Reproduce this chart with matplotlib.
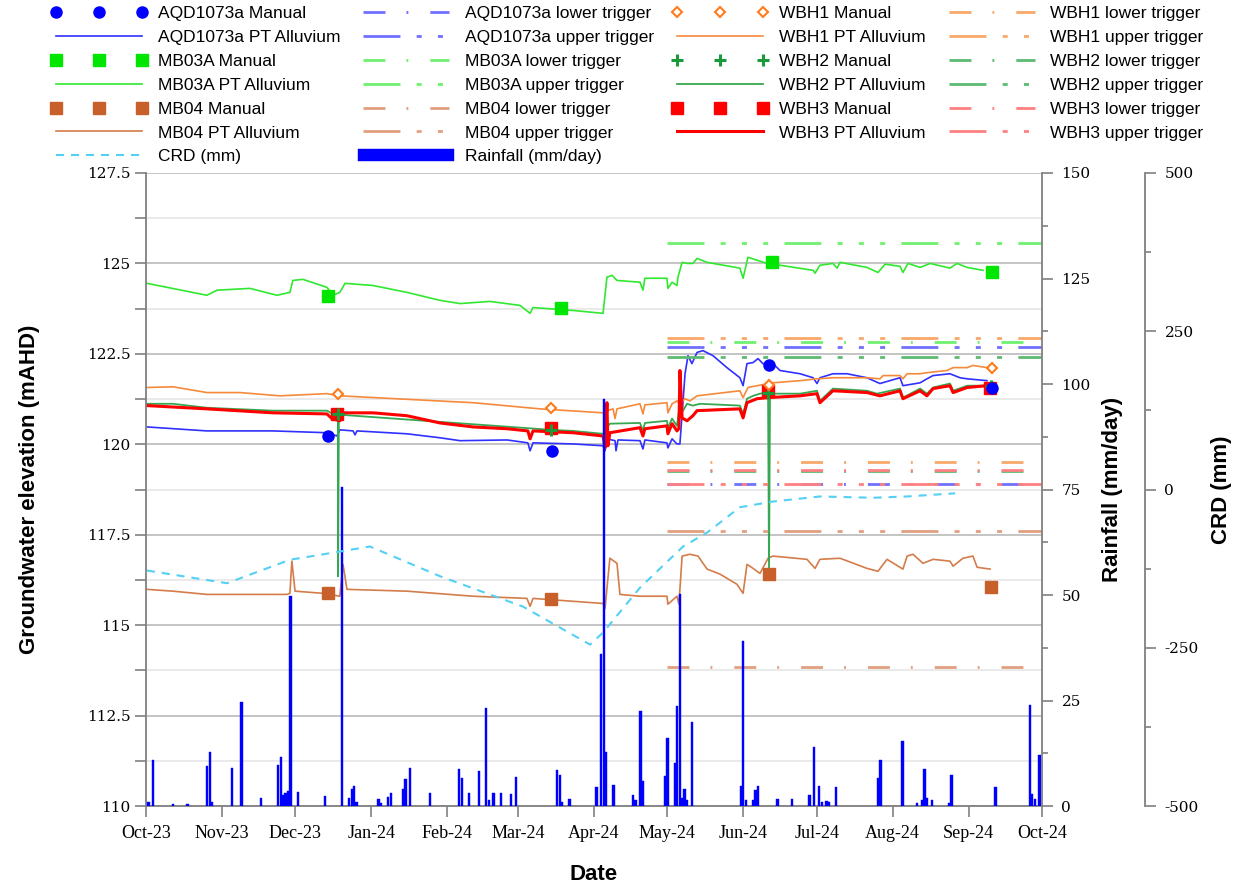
import matplotlib
matplotlib.use('Agg')
import matplotlib.pyplot as plt
from matplotlib.ticker import MultipleLocator
import pandas as pd

plt.rcParams['font.family'] = ['Liberation Sans', 'DejaVu Sans']
plt.rcParams['lines.scale_dashes'] = False

start = pd.Timestamp('2023-10-01')


def to_dates(days):
    return start + pd.to_timedelta(days, unit='D')


# ---- logger data (days since 1 Oct 2023, level in mAHD) ----
mb03a_day = [0.4, 24.9, 29.0, 42.5, 53.5, 58.8, 60.0, 64.1, 73.9, 76.4, 79.2, 81.3, 92.7, 106.6, 120.1,
             128.3, 140.5, 152.8, 156.9, 158.1, 174.4, 186.7, 188.3, 190.4, 192.4, 201.8, 203.0, 203.8,
             212.8, 213.2, 214.9, 216.9, 217.3, 219.0, 221.0, 223.4, 225.1, 229.2, 242.6, 243.9, 245.9,
             249.6, 253.7, 259.0, 272.5, 273.3, 275.3, 280.6, 282.3, 283.5, 294.5, 299.0, 301.9, 308.0,
             309.2, 311.3, 316.2, 320.3, 328.4, 331.3, 335.4, 341.9]
mb03a_lvl = [124.45, 124.12, 124.26, 124.31, 124.12, 124.20, 124.53, 124.56, 124.34, 124.12, 124.20,
             124.45, 124.39, 124.20, 123.98, 123.89, 123.95, 123.84, 123.62, 123.78, 123.70, 123.62,
             124.62, 124.67, 124.53, 124.48, 124.26, 124.59, 124.59, 124.31, 124.48, 124.39, 124.62,
             125.03, 125.00, 125.00, 125.14, 125.03, 124.87, 124.59, 125.17, 125.09, 125.00, 124.95,
             124.81, 124.73, 124.95, 125.00, 124.87, 125.03, 124.89, 124.75, 124.98, 124.92, 124.75,
             125.00, 124.89, 125.00, 124.87, 125.00, 124.89, 124.81]

aqd_day = [0.4, 24.9, 51.9, 73.9, 78.0, 79.2, 84.6, 85.4, 86.2, 106.6, 120.1, 128.3, 147.5, 156.0, 156.9,
           158.1, 174.4, 186.7, 187.5, 188.3, 191.6, 192.0, 192.8, 201.8, 203.0, 203.8, 212.8, 213.2,
           214.9, 216.9, 218.1, 220.2, 221.4, 223.0, 225.1, 227.5, 231.6, 237.3, 242.6, 243.9, 245.5,
           248.0, 250.0, 252.0, 256.1, 259.0, 267.2, 272.5, 274.1, 275.3, 280.6, 286.4, 294.5, 299.8,
           308.0, 309.2, 316.2, 319.0, 321.5, 328.4, 332.5, 335.4, 343.5]
aqd_lvl = [120.48, 120.37, 120.37, 120.32, 120.23, 120.40, 120.37, 120.26, 120.37, 120.29, 120.18, 120.10,
           120.12, 120.04, 119.82, 120.04, 120.01, 119.96, 119.82, 120.15, 120.10, 119.82, 120.12, 120.10,
           119.87, 120.12, 120.04, 119.90, 120.15, 120.01, 120.01, 121.95, 122.45, 122.23, 122.54, 122.59,
           122.45, 122.12, 121.84, 121.62, 122.23, 122.26, 122.37, 122.23, 122.23, 122.04, 121.95, 121.84,
           121.68, 121.84, 121.95, 121.95, 121.84, 121.68, 121.84, 121.62, 121.70, 121.81, 121.90, 121.95,
           121.84, 121.81, 121.76]

wbh1_day = [0.4, 11.0, 24.9, 38.4, 54.7, 73.9, 79.2, 133.6, 160.9, 186.7, 188.3, 190.8, 191.6, 192.4,
            201.8, 203.0, 203.8, 212.8, 213.2, 214.9, 216.9, 218.1, 220.2, 222.2, 225.1, 242.6, 243.9,
            245.9, 249.6, 256.1, 267.2, 274.1, 280.6, 294.5, 299.8, 301.1, 308.0, 309.2, 310.9, 316.2,
            319.0, 327.2, 329.7, 335.4, 337.8, 343.5]
wbh1_lvl = [121.57, 121.59, 121.43, 121.43, 121.34, 121.40, 121.34, 121.15, 120.98, 120.87, 120.93,
            120.98, 120.71, 120.98, 121.12, 120.84, 121.09, 121.15, 120.87, 121.12, 121.20, 121.12,
            121.26, 121.20, 121.34, 121.48, 121.29, 121.57, 121.62, 121.70, 121.76, 121.81, 121.84,
            121.84, 121.81, 121.90, 121.90, 121.81, 121.95, 121.95, 121.98, 122.04, 122.12, 122.12,
            122.18, 122.12]

wbh2_day = [0.4, 11.0, 24.9, 51.9, 73.9, 76.4, 78.4, 78.5, 78.8, 165.4, 174.4, 186.7, 188.3, 189.5,
            201.8, 203.0, 203.8, 212.8, 213.2, 214.9, 216.9, 218.1, 219.4, 221.0, 223.4, 226.3, 242.6,
            243.9, 245.5, 248.0, 250.8, 254.1, 254.5, 254.9, 267.2, 274.1, 275.3, 280.6, 294.5, 298.6,
            308.0, 309.2, 316.2, 319.0, 321.5, 328.4, 329.7, 335.4, 343.5]
wbh2_lvl = [121.12, 121.12, 121.01, 120.93, 120.93, 120.84, 120.84, 116.35, 120.82, 120.40, 120.37,
            120.29, 120.46, 120.57, 120.59, 120.37, 120.59, 120.65, 120.46, 120.71, 120.51, 121.12,
            120.93, 121.12, 121.07, 121.12, 121.07, 120.84, 121.26, 121.34, 121.40, 121.43, 116.41,
            121.40, 121.40, 121.48, 121.20, 121.54, 121.48, 121.40, 121.54, 121.29, 121.54, 121.40,
            121.57, 121.68, 121.48, 121.62, 121.62]

wbh3_day = [0.4, 24.9, 51.9, 73.9, 76.0, 79.2, 80.5, 92.7, 106.6, 120.1, 133.6, 147.5, 156.0, 156.9,
            158.1, 174.4, 186.7, 187.5, 188.3, 188.7, 189.5, 201.8, 203.0, 203.8, 212.8, 213.2, 214.9,
            216.9, 217.7, 218.1, 219.0, 221.0, 223.4, 225.1, 242.6, 243.9, 245.5, 249.6, 254.1, 267.2,
            274.1, 275.3, 280.6, 294.5, 299.8, 308.0, 309.2, 316.2, 319.0, 321.5, 328.4, 329.7, 335.4,
            343.5]
wbh3_lvl = [121.07, 120.98, 120.87, 120.84, 120.71, 120.65, 120.87, 120.87, 120.79, 120.59, 120.48,
            120.43, 120.37, 120.15, 120.37, 120.32, 120.23, 119.90, 121.15, 119.96, 120.32, 120.46,
            120.23, 120.43, 120.51, 120.29, 120.57, 120.37, 120.43, 122.04, 120.73, 120.65, 120.79,
            120.93, 120.98, 120.73, 121.15, 121.26, 121.29, 121.34, 121.40, 121.15, 121.48, 121.43,
            121.34, 121.48, 121.26, 121.48, 121.34, 121.54, 121.62, 121.43, 121.57, 121.62]

mb04_day = [0.4, 11.0, 24.9, 38.4, 57.6, 58.8, 59.6, 60.9, 72.3, 79.2, 80.5, 82.1, 106.6, 133.6, 155.6,
            156.9, 158.1, 174.4, 186.7, 187.5, 189.5, 192.4, 193.6, 201.8, 212.8, 213.2, 216.9, 217.7,
            219.0, 222.2, 225.5, 229.2, 234.5, 241.4, 243.9, 245.5, 248.0, 250.8, 254.1, 256.1, 270.0,
            273.3, 275.3, 283.5, 294.5, 299.0, 302.7, 309.2, 310.9, 313.3, 317.4, 321.5, 328.4, 329.7,
            333.7, 337.8, 339.5, 344.8]
mb04_lvl = [115.99, 115.94, 115.85, 115.85, 115.85, 115.88, 116.77, 115.94, 115.88, 115.80, 116.68,
            115.99, 115.94, 115.80, 115.74, 115.52, 115.74, 115.66, 115.60, 115.46, 116.85, 116.71,
            115.85, 115.80, 115.80, 115.58, 115.80, 115.58, 116.91, 116.96, 116.91, 116.55, 116.41,
            116.13, 115.88, 116.68, 116.57, 116.43, 116.85, 116.91, 116.82, 116.57, 116.82, 116.85,
            116.57, 116.49, 116.82, 116.55, 116.91, 116.96, 116.71, 116.82, 116.77, 116.63, 116.85,
            116.91, 116.60, 116.55]

# cumulative rainfall departure (mm)
crd_day = [0.4, 33.1, 58.8, 79.2, 91.5, 120.1, 154.0, 181.4, 186.7, 201.8, 219.4, 229.2, 242.6, 256.1,
           275.3, 297.0, 310.9, 330.5]
crd_mm = [-128, -148, -111, -98, -90, -137, -185, -245, -226, -155, -90, -68, -28, -19, -11, -13, -11, -6]

# ---- manual dips ----
aqd_man_day = [74.3, 165.8, 254.5, 345.6]
aqd_man_lvl = [120.23, 119.82, 122.18, 121.57]
mb03a_man_day = [74.3, 169.5, 255.7, 345.6]
mb03a_man_lvl = [124.09, 123.78, 125.03, 124.75]
mb04_man_day = [74.3, 165.4, 254.5, 345.2]
mb04_man_lvl = [115.88, 115.71, 116.41, 116.05]
wbh1_man_day = [78.4, 165.4, 254.5, 345.6]
wbh1_man_lvl = [121.40, 121.01, 121.65, 122.12]
wbh2_man_day = [78.4, 165.4, 254.1, 345.2]
wbh2_man_lvl = [120.84, 120.40, 121.43, 121.60]
wbh3_man_day = [78.0, 165.4, 254.1, 344.8]
wbh3_man_lvl = [120.84, 120.46, 121.48, 121.57]

# ---- daily rainfall (mm/day) ----
rain_day = [1, 3, 11, 17, 25, 26, 27, 35, 39, 47, 54, 55, 56, 57, 58, 59, 62, 73, 80, 83, 84, 85, 86, 95,
            96, 99, 100, 105, 106, 108, 116, 128, 129, 132, 136, 139, 140, 142, 145, 149, 151, 168, 169,
            170, 173, 184, 186, 187, 188, 191, 199, 200, 202, 203, 212, 213, 216, 217, 218, 219, 220, 221,
            223, 243, 244, 245, 248, 249, 250, 258, 264, 271, 273, 275, 276, 278, 279, 282, 299, 300, 309,
            315, 317, 318, 319, 321, 328, 329, 347, 361, 362, 363, 365]
rain_mm = [1.0, 10.9, 0.5, 0.5, 9.5, 12.9, 1.0, 9.1, 24.6, 2.0, 9.8, 11.5, 2.5, 3.0, 3.5, 49.7, 3.4, 2.4,
           75.6, 2.0, 4.0, 4.8, 1.0, 1.6, 0.8, 2.1, 3.2, 4.0, 6.3, 8.9, 3.2, 8.7, 6.7, 3.2, 8.2, 23.2, 1.5,
           3.0, 3.0, 2.8, 6.9, 8.5, 7.4, 1.0, 1.6, 4.6, 36.0, 96.5, 12.9, 5.0, 2.6, 1.5, 22.4, 5.9, 7.1,
           16.1, 10.3, 23.6, 50.2, 2.0, 4.0, 1.5, 20.0, 4.8, 39.0, 1.5, 1.5, 3.7, 4.8, 1.6, 1.6, 2.6, 14.1,
           4.8, 1.0, 1.2, 1.0, 4.6, 6.7, 10.9, 15.5, 0.8, 1.5, 8.7, 2.0, 1.4, 0.8, 7.4, 4.6, 24.0, 2.8, 1.6,
           12.1]

# ---- trigger levels (mAHD), shown from May-24 ----
trig_days = [213, 366]
aqd_lower, aqd_upper = 118.90, 122.70
mb03a_lower, mb03a_upper = 122.82, 125.57
mb04_lower, mb04_upper = 113.83, 117.60
wbh1_lower, wbh1_upper = 119.50, 122.95
wbh2_lower, wbh2_upper = 119.27, 122.42
wbh3_lower, wbh3_upper = 119.30, 118.90

x_ticks = pd.date_range('2023-10-01', '2024-10-01', freq='MS')
x_labels = ['Oct-23', 'Nov-23', 'Dec-23', 'Jan-24', 'Feb-24', 'Mar-24', 'Apr-24', 'May-24', 'Jun-24',
            'Jul-24', 'Aug-24', 'Sep-24', 'Oct-24']
gw_ticks = [110, 112.5, 115, 117.5, 120, 122.5, 125, 127.5]
rain_ticks = [0, 25, 50, 75, 100, 125, 150]
crd_ticks = [-500, -250, 0, 250, 500]

LOWER = (15.8, 15.1, 1.4, 15.8)
UPPER = (26.6, 11.7, 3.6, 11.7, 3.6, 11.7, 3.6, 11.7)
GREY = '#808080'

fig = plt.figure(figsize=(12.39, 8.84), dpi=100)
ax = fig.add_axes([0.1178, 0.0882, 0.7232, 0.7161])
ax_rain = ax.twinx()
ax_crd = ax.twinx()
ax_crd.spines['right'].set_position(('axes', 1.115))

# logger lines
aqd_pt, = ax.plot(to_dates(aqd_day), aqd_lvl, color='#3030ff', lw=1.2)
mb03a_pt, = ax.plot(to_dates(mb03a_day), mb03a_lvl, color='#30e830', lw=1.2)
mb04_pt, = ax.plot(to_dates(mb04_day), mb04_lvl, color='#d47c4a', lw=1.2)
wbh1_pt, = ax.plot(to_dates(wbh1_day), wbh1_lvl, color='#f58a3c', lw=1.2)
wbh2_pt, = ax.plot(to_dates(wbh2_day), wbh2_lvl, color='#36a852', lw=1.3)
wbh3_pt, = ax.plot(to_dates(wbh3_day), wbh3_lvl, color='#ff0000', lw=2.2, zorder=2.1)

# triggers
td = to_dates(trig_days)
trig = {}
for name, lo, up, col in [('aqd', aqd_lower, aqd_upper, '#7070ff'),
                          ('mb03a', mb03a_lower, mb03a_upper, '#70f070'),
                          ('mb04', mb04_lower, mb04_upper, '#e0a080'),
                          ('wbh1', wbh1_lower, wbh1_upper, '#f8a868'),
                          ('wbh2', wbh2_lower, wbh2_upper, '#5cba72'),
                          ('wbh3', wbh3_lower, wbh3_upper, '#ff8080')]:
    l1, = ax.plot(td, [lo, lo], color=col, lw=2.0, dashes=LOWER)
    l2, = ax.plot(td, [up, up], color=col, lw=2.0, dashes=UPPER)
    trig[name] = (l1, l2)

# manual readings
mb04_man, = ax.plot(to_dates(mb04_man_day), mb04_man_lvl, 's', color='#c8602c', ms=8, zorder=4)
mb03a_man, = ax.plot(to_dates(mb03a_man_day), mb03a_man_lvl, 's', color='#00e600', ms=8, zorder=4)
wbh3_man, = ax.plot(to_dates(wbh3_man_day), wbh3_man_lvl, 's', color='#ff0000', ms=8, zorder=4)
wbh2_man, = ax.plot(to_dates(wbh2_man_day), wbh2_man_lvl, '+', color='#1a9a3a', ms=9, mew=2.2, zorder=4.5)
wbh1_man, = ax.plot(to_dates(wbh1_man_day), wbh1_man_lvl, 'D', mfc='white', mec='#ff7a1a', ms=5,
                    mew=1.5, zorder=4.5)
aqd_man, = ax.plot(to_dates(aqd_man_day), aqd_man_lvl, 'o', color='#0000ff', ms=8, zorder=5)

# rainfall
rain = ax_rain.bar(to_dates(rain_day), rain_mm, width=0.9, color='#0000ff', edgecolor='#0000ff', lw=0.3)

# CRD
crd_line, = ax_crd.plot(to_dates(crd_day), crd_mm, color='#55d0f5', lw=1.5, dashes=(5.8, 5.0))

# axes styling
ax.set_xlim(pd.Timestamp('2023-10-01'), pd.Timestamp('2024-10-01'))
ax.set_ylim(110, 127.5)
ax.set_yticks(gw_ticks, [f'{v:g}' for v in gw_ticks], fontfamily='DejaVu Serif', fontsize=11)
ax.yaxis.set_minor_locator(MultipleLocator(1.25))
ax.set_xticks(x_ticks, x_labels, fontfamily='Liberation Serif', fontsize=13)
ax.grid(which='major', axis='y', color='#c4c4c4', lw=1.4)
ax.grid(which='minor', axis='y', color='#e4e4e4', lw=1.1)
ax.set_axisbelow(True)
ax.tick_params(axis='y', which='both', direction='out', length=8, color=GREY, width=1.2, pad=3)
ax.tick_params(axis='x', which='major', direction='out', length=8, color=GREY, width=1.2, pad=6)
for s in ['top', 'right']:
    ax.spines[s].set_visible(False)
for s in ['left', 'bottom']:
    ax.spines[s].set_color(GREY)
    ax.spines[s].set_linewidth(1.3)

ax_rain.set_ylim(0, 150)
ax_rain.set_yticks(rain_ticks, [str(v) for v in rain_ticks], fontfamily='DejaVu Serif', fontsize=11)
ax_rain.yaxis.set_minor_locator(MultipleLocator(12.5))
ax_rain.tick_params(which='major', direction='out', length=8, color=GREY, width=1.2, pad=6)
ax_rain.tick_params(which='minor', direction='out', length=4, color=GREY, width=1.2)

ax_crd.set_ylim(-500, 500)
ax_crd.set_yticks(crd_ticks, [str(v) for v in crd_ticks], fontfamily='DejaVu Serif', fontsize=11)
ax_crd.yaxis.set_minor_locator(MultipleLocator(125))
ax_crd.tick_params(which='major', direction='out', length=8, color=GREY, width=1.2, pad=6)
ax_crd.tick_params(which='minor', direction='out', length=4, color=GREY, width=1.2)

for a in [ax_rain, ax_crd]:
    for s in ['top', 'left', 'bottom']:
        a.spines[s].set_visible(False)
    a.spines['right'].set_color(GREY)
    a.spines['right'].set_linewidth(1.3)

lab = dict(fontsize=16, fontweight='bold')
ax.set_ylabel('Groundwater elevation (mAHD)', **lab)
ax.yaxis.set_label_coords(-0.118, 0.5)
ax.set_xlabel('Date', **lab)
ax.xaxis.set_label_coords(0.5, -0.092)
ax_rain.set_ylabel('Rainfall (mm/day)', **lab)
ax_rain.yaxis.set_label_coords(1.067, 0.5)
ax_crd.set_ylabel('CRD (mm)', **lab)
ax_crd.yaxis.set_label_coords(1.189, 0.5)

handles = [aqd_man, aqd_pt, mb03a_man, mb03a_pt, mb04_man, mb04_pt, crd_line,
           trig['aqd'][0], trig['aqd'][1], trig['mb03a'][0], trig['mb03a'][1], trig['mb04'][0],
           trig['mb04'][1], rain,
           wbh1_man, wbh1_pt, wbh2_man, wbh2_pt, wbh3_man, wbh3_pt,
           trig['wbh1'][0], trig['wbh1'][1], trig['wbh2'][0], trig['wbh2'][1], trig['wbh3'][0],
           trig['wbh3'][1]]
labels = ['AQD1073a Manual', 'AQD1073a PT Alluvium', 'MB03A Manual', 'MB03A PT Alluvium', 'MB04 Manual',
          'MB04 PT Alluvium', 'CRD (mm)',
          'AQD1073a lower trigger', 'AQD1073a upper trigger', 'MB03A lower trigger', 'MB03A upper trigger',
          'MB04 lower trigger', 'MB04 upper trigger', 'Rainfall (mm/day)',
          'WBH1 Manual', 'WBH1 PT Alluvium', 'WBH2 Manual', 'WBH2 PT Alluvium', 'WBH3 Manual',
          'WBH3 PT Alluvium',
          'WBH1 lower trigger', 'WBH1 upper trigger', 'WBH2 lower trigger', 'WBH2 upper trigger',
          'WBH3 lower trigger', 'WBH3 upper trigger']
fig.legend(handles, labels, loc='upper left', bbox_to_anchor=(0.041, 0.993), ncol=4, frameon=False,
           numpoints=3, handlelength=5.55, handletextpad=0.6, columnspacing=1.04, labelspacing=0.5,
           borderpad=0, borderaxespad=0, fontsize=12.5)

fig.savefig('out.png', dpi=100)
